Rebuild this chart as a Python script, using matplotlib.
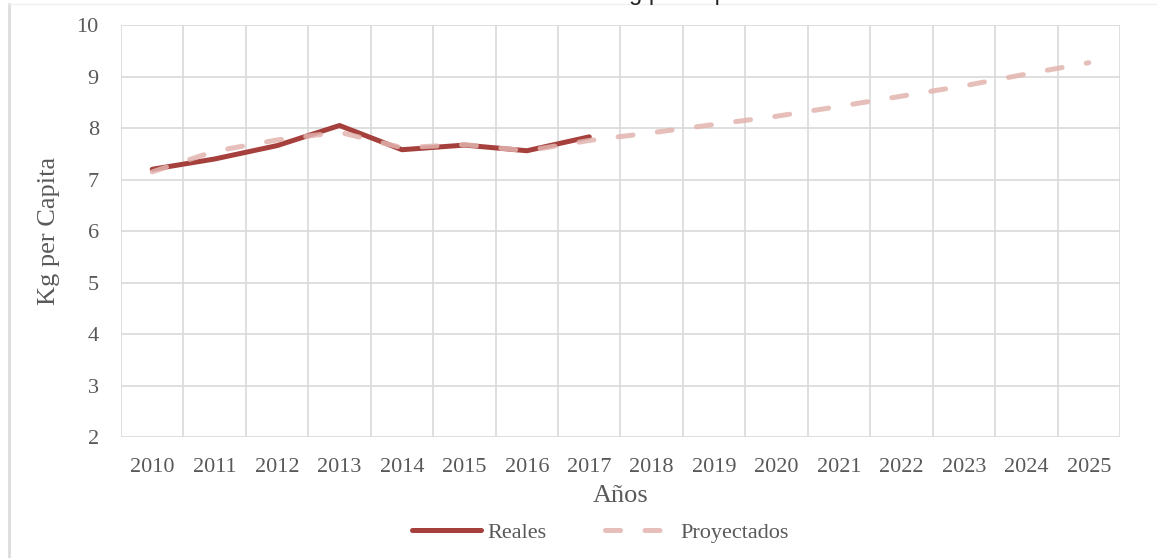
import matplotlib
matplotlib.use('Agg')
from matplotlib import pyplot as plt
from matplotlib.lines import Line2D
import numpy as np

years = ['2010', '2011', '2012', '2013', '2014', '2015', '2016', '2017',
         '2018', '2019', '2020', '2021', '2022', '2023', '2024', '2025']

# consumo observado (2010-2017)
reales = [7.20, 7.40, 7.66, 8.05, 7.58, 7.67, 7.56, 7.83]

# serie proyectada (2010-2025)
proyectados = [7.15, 7.55, 7.77, 7.92, 7.62, 7.68, 7.56, 7.76,
               7.91, 8.07, 8.23, 8.42, 8.62, 8.82, 9.05, 9.27]

yticks = [2, 3, 4, 5, 6, 7, 8, 9, 10]

gris = '#595959'
rejilla = '#d9d9d9'
serif = ['Liberation Serif', 'DejaVu Serif']

fig = plt.figure(figsize=(11.57, 5.58), dpi=100)
ax = fig.add_axes([0.1046, 0.2168, 0.8634, 0.7382])

x = np.arange(len(years))
ax.plot(x[:len(reales)], reales, color='#a5403d', linewidth=3.6,
        solid_capstyle='round', solid_joinstyle='round', label='Reales', zorder=3)
ax.plot(x, proyectados, color='#e2b3ae', linewidth=3.6, alpha=0.85,
        linestyle=(0, (3.0, 4.9)), dash_capstyle='round', label='Proyectados', zorder=4)

ax.set_xlim(-0.5, len(years) - 0.5)
ax.set_ylim(2, 10)
ax.set_yticks(yticks)
ax.set_xticks(x)
ax.set_xticklabels(years)
# lineas verticales entre categorias
ax.set_xticks(np.arange(-0.5, len(years)), minor=True)
ax.grid(True, axis='y', which='major', color=rejilla, linewidth=1.2)
ax.grid(True, axis='x', which='minor', color=rejilla, linewidth=1.2)
ax.tick_params(axis='both', which='both', length=0)
ax.tick_params(axis='y', pad=16)
ax.tick_params(axis='x', pad=15)
for lbl in ax.get_xticklabels() + ax.get_yticklabels():
    lbl.set_family(serif)
    lbl.set_fontsize(16)
    lbl.set_color(gris)
for s in ax.spines.values():
    s.set_visible(False)

ax.set_xlabel('Años', family=serif, fontsize=19, color=gris, labelpad=6)
ax.set_ylabel('Kg per Capita', family=serif, fontsize=19, color=gris, labelpad=12)

leg = fig.legend(loc='center', bbox_to_anchor=(0.519, 0.045), ncol=2, frameon=False,
                 handlelength=3.1, columnspacing=2.6, handletextpad=0.3,
                 prop={'family': serif, 'size': 16})
for t in leg.get_texts():
    t.set_color(gris)

# titulo (cortado por el borde superior)
fig.text(0.53, 1.0, 'Consumo en Kg per cápita', ha='center', va='baseline',
         family=['Liberation Sans'], fontsize=17, color='#222222')

# borde del area del grafico
fig.add_artist(Line2D([0.008, 0.008], [0.0, 0.993], color='#dcdcdc', linewidth=2.0))
fig.add_artist(Line2D([0.008, 1.0], [0.993, 0.993], color='#f0f0f0', linewidth=1.0))

fig.savefig('out.png', dpi=100, facecolor='white')
